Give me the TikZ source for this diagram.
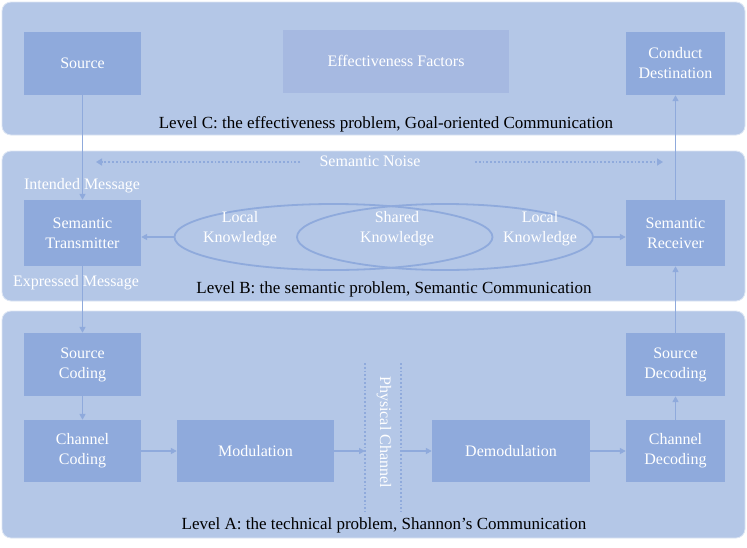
\documentclass[tikz,border=0pt]{standalone}
\usepackage{fontspec}
\setmainfont{Liberation Serif}
\usetikzlibrary{shapes.geometric,arrows.meta}
\definecolor{panelc}{HTML}{B4C7E7}
\definecolor{boxc}{HTML}{8FAADC}
\definecolor{effc}{HTML}{A6B9E1}
\definecolor{linec}{HTML}{8FAADC}
\begin{document}
\begin{tikzpicture}[x=1pt,y=-1pt,
  panel/.style={fill=panelc,draw=white!55!panelc,line width=0.8pt,rounded corners=9pt},
  blk/.style={fill=boxc,draw=none,text=white,font=\fontsize{16}{20}\selectfont,align=center,inner sep=0pt},
  lvl/.style={text=black,font=\fontsize{17}{20}\selectfont,inner sep=0pt},
  wlab/.style={text=white,font=\fontsize{16}{20}\selectfont,align=center,inner sep=0pt},
  conn/.style={draw=linec,line width=1.6pt,-{Triangle[length=6pt,width=6pt]}},
  dconn/.style={draw=linec,line width=1.8pt,dotted,-{Triangle[length=6pt,width=7pt]}},
  dline/.style={draw=linec,line width=1.8pt,dotted},
  ell/.style={ellipse,draw=linec,line width=1.8pt,inner sep=0pt}]
\useasboundingbox (0,0) rectangle (747,547);
\fill[white] (0,0) rectangle (747,547);
% panels
\draw[panel] (2,2) rectangle (745,135);
\draw[panel] (2,151) rectangle (745,301);
\draw[panel] (2,311) rectangle (745,538);
% level C
\node[blk,minimum width=117pt,minimum height=63pt] (src) at (82.5,63.5) {Source};
\node[blk,fill=effc,minimum width=226pt,minimum height=63pt] (eff) at (396,61) {Effectiveness Factors};
\node[blk,minimum width=99pt,minimum height=63pt] (dst) at (675.5,63.5) {Conduct\\Destination};
\node[lvl] (lc) at (386,124) {Level C: the effectiveness problem, Goal-oriented Communication};
% level B
\node[wlab] (noise) at (370,161) {Semantic Noise};
\coordinate (nl1) at (300,162);
\coordinate (nl2) at (96,162);
\coordinate (nr1) at (475,162);
\coordinate (nr2) at (663,162);
\draw[dconn] (nl1) -- (nl2);
\draw[dconn] (nr1) -- (nr2);
\node[wlab] (intm) at (82,186) {Intended Message};
\node[blk,minimum width=117pt,minimum height=66pt] (stx) at (82.5,233) {Semantic\\Transmitter};
\node[blk,minimum width=99pt,minimum height=66pt] (srx) at (675.5,233) {Semantic\\Receiver};
\node[ell,minimum width=318pt,minimum height=66pt] (elL) at (333.5,237) {};
\node[ell,minimum width=296pt,minimum height=66pt] (elR) at (445,237) {};
\node[wlab] (lk1) at (240,229) {Local\\Knowledge};
\node[wlab] (sk) at (397,229) {Shared\\Knowledge};
\node[wlab] (lk2) at (540,229) {Local\\Knowledge};
\node[wlab] (expm) at (76,283) {Expressed Message};
\node[lvl] (lb) at (394,289) {Level B: the semantic problem, Semantic Communication};
\draw[conn] (elL.west) -- (elL.west -| stx.east);
\draw[conn] (elR.east) -- (elR.east -| srx.west);
% level A
\node[blk,minimum width=117pt,minimum height=63pt] (scod) at (82.5,364.5) {Source\\Coding};
\node[blk,minimum width=117pt,minimum height=62pt] (ccod) at (82.5,451) {Channel\\Coding};
\node[blk,minimum width=157pt,minimum height=62pt] (mod) at (255.5,451) {Modulation};
\node[blk,minimum width=158pt,minimum height=62pt] (dem) at (511,451) {Demodulation};
\node[blk,minimum width=99pt,minimum height=62pt] (cdec) at (675.5,451) {Channel\\Decoding};
\node[blk,minimum width=99pt,minimum height=63pt] (sdec) at (675.5,364.5) {Source\\Decoding};
\coordinate (pa1) at (365,363);
\coordinate (pa2) at (365,512);
\coordinate (pb1) at (401,363);
\coordinate (pb2) at (401,512);
\draw[dline] (pa1) -- (pa2);
\draw[dline] (pb1) -- (pb2);
\node[wlab,rotate=-90] (phy) at (384,432) {Physical Channel};
\node[lvl] (la) at (384,525) {Level A: the technical problem, Shannon's Communication};
% connectors
\draw[conn] (src.south) -- (stx.north);
\draw[conn] (stx.south) -- (scod.north);
\draw[conn] (scod.south) -- (ccod.north);
\draw[conn] (ccod.east) -- (mod.west);
\draw[conn] (mod.east) -- (mod.east -| pa1);
\draw[conn] (dem.west -| pb1) -- (dem.west);
\draw[conn] (dem.east) -- (cdec.west);
\draw[conn] (cdec.north) -- (sdec.south);
\draw[conn] (sdec.north) -- (srx.south);
\draw[conn] (srx.north) -- (dst.south);
\end{tikzpicture}
\end{document}
